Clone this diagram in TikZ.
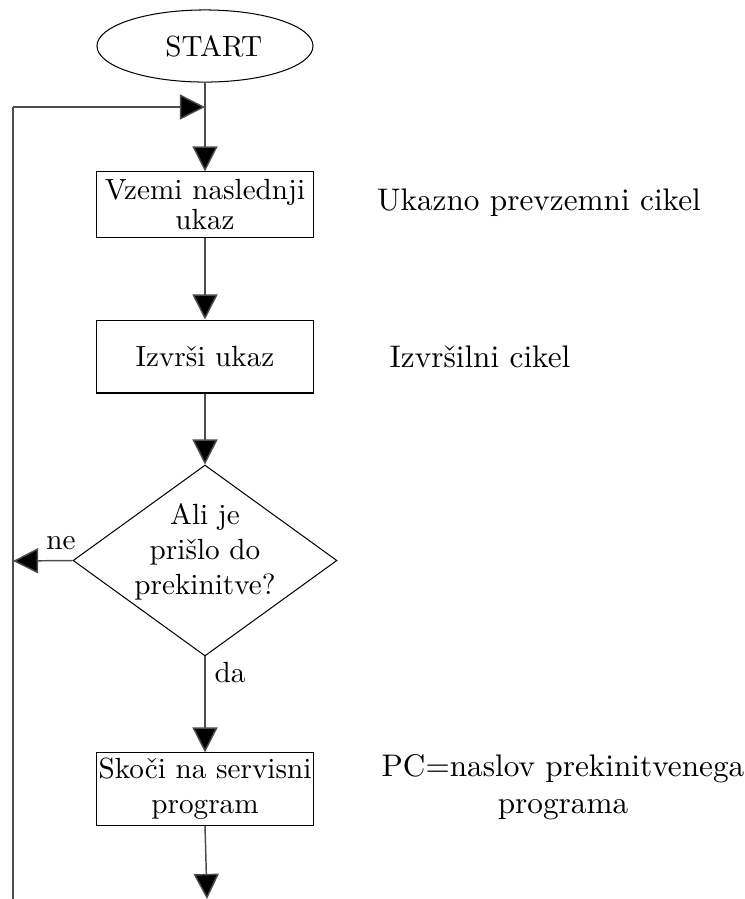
\documentclass[tikz,border=0pt]{standalone}
\usepackage{fontspec}
\usetikzlibrary{shapes.geometric,arrows.meta}
\begin{document}
\begin{tikzpicture}[x=0.3425pt,y=-0.3425pt,
  box/.style={draw=black,line width=0.35pt,rectangle,inner sep=0pt,
    minimum width=74pt,align=center},
  terminal/.style={draw=black,line width=0.35pt,ellipse,inner sep=0pt,
    minimum width=74pt,minimum height=24.7pt},
  decision/.style={draw=black,line width=0.35pt,diamond,inner sep=0pt,
    minimum width=90.4pt,minimum height=65.4pt},
  flow/.style={draw=black!70,line width=0.5pt,
    -{Triangle[length=8.6pt,width=8.6pt,fill=black]}},
  wire/.style={draw=black!70,line width=0.5pt},
  note/.style={align=center,inner sep=0pt},
  comment/.style={note,font=\fontsize{10.7}{12.6}\selectfont}]
\useasboundingbox (0,0) rectangle (745,899);

% flowchart blocks
\node[terminal] (start) at (205,46) {\hspace*{6pt}START};
\node[box,minimum height=22.3pt] (fetch) at (205,204.5) {Vzemi naslednji\\[-1.5pt]ukaz};
\node[box,minimum height=25pt] (exec) at (205,356.5) {Izvrši ukaz};
\node[decision] (ask) at (205,560.5) {};
\node[note] (asktext) at (205,552) {Ali je\\prišlo do\\prekinitve?};
\node[box,minimum height=24.7pt] (jump) at (205,789) {Skoči na servisni\\program};

% side comments
\node[comment] (c1) at (539,203) {Ukazno prevzemni cikel};
\node[comment] (c2) at (480,357) {Izvršilni cikel};
\node[comment] (c3) at (563,787) {PC=naslov prekinitvenega\\programa};

% branch labels
\node[note] (ne) at (61,543) {ne};
\node[note] (da) at (230,673) {da};

% auxiliary points of the return loop
\coordinate (join) at (205,107);
\coordinate (left) at (13,561);
\coordinate (ltop) at (13,107);
\coordinate (lbot) at (13,899);
\coordinate (out) at (207,899);

% connectors
\draw[flow] (start.south) -- (fetch.north);
\draw[flow] (fetch.south) -- (exec.north);
\draw[flow] (exec.south) -- (ask.north);
\draw[flow] (ask.south) -- (jump.north);
\draw[flow] (ask.west) -- (left);
\draw[flow] (jump.south) -- (out);
\draw[wire] (lbot) -- (ltop);
\draw[flow] (ltop) -- (join);
\end{tikzpicture}
\end{document}
